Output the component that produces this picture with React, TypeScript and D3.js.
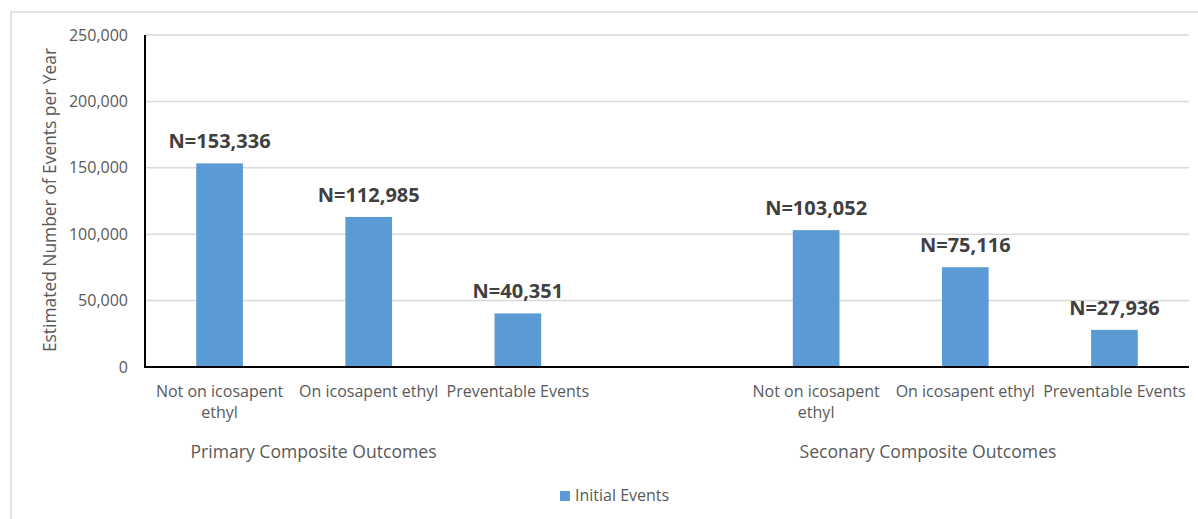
import React from "react";
import * as d3 from "d3";

const groups = ["Primary Composite Outcomes", "Seconary Composite Outcomes"];
const categories = ["Not on icosapent ethyl", "On icosapent ethyl", "Preventable Events"];
const categoryLines = [["Not on icosapent", "ethyl"], ["On icosapent ethyl"], ["Preventable Events"]];
const primaryValues = [153336, 112985, 40351];
const secondaryValues = [103052, 75116, 27936];
const yTicks = [0, 50000, 100000, 150000, 200000, 250000];
const seriesName = "Initial Events";

const W = 1198;
const H = 519;
const M = { left: 145, right: 9, top: 35, bottom: 152 };
const BAR_COLOR = "#5b9bd5";
const TEXT = "#595959";
const FONT = "'Open Sans', sans-serif";

export default function App() {
  const slots = [
    ...categories.map((c) => `${groups[0]}|${c}`),
    "gap",
    ...categories.map((c) => `${groups[1]}|${c}`),
  ];
  const x = d3.scaleBand<string>().domain(slots).range([M.left, W - M.right]).padding(0);
  const y = d3.scaleLinear().domain([0, 250000]).range([H - M.bottom, M.top]);
  const bw = x.bandwidth() * 0.313;
  const fmt = d3.format(",");

  const bars = [
    ...categories.map((c, i) => ({ key: `${groups[0]}|${c}`, cat: i, v: primaryValues[i] })),
    ...categories.map((c, i) => ({ key: `${groups[1]}|${c}`, cat: i, v: secondaryValues[i] })),
  ];
  const groupCenters = [M.left + x.bandwidth() * 1.13, M.left + x.bandwidth() * 5.25];
  const [x0, x1] = x.range();

  return (
    <svg width={W} height={H} style={{ position: "absolute", left: 0, top: 0, background: "#fff" }}>
      <rect x={11} y={12} width={W + 20} height={H + 20} fill="none" stroke="#d9d9d9" strokeWidth={1.5} />
      {yTicks.map((t) => (
        <g key={t}>
          {t > 0 && <line x1={x0} x2={x1} y1={y(t)} y2={y(t)} stroke="#d9d9d9" strokeWidth={1.5} />}
          <text x={x0 - 17} y={y(t)} dy="0.35em" textAnchor="end" fontFamily={FONT} fontSize={16} fill={TEXT}>
            {fmt(t)}
          </text>
        </g>
      ))}
      {bars.map((b) => {
        const cx = (x(b.key) as number) + x.bandwidth() / 2;
        return (
          <g key={b.key}>
            <rect x={cx - bw / 2} y={y(b.v)} width={bw} height={y(0) - y(b.v)} fill={BAR_COLOR} />
            <text x={cx} y={y(b.v) - 15} textAnchor="middle" fontFamily={FONT} fontWeight="bold" fontSize={20} fill="#404040">
              {"N=" + fmt(b.v)}
            </text>
            <text x={cx} y={397} textAnchor="middle" fontFamily={FONT} fontSize={16} fill={TEXT}>
              {categoryLines[b.cat].map((l, j) => (
                <tspan key={j} x={cx} dy={j === 0 ? 0 : 21}>{l}</tspan>
              ))}
            </text>
          </g>
        );
      })}
      <line x1={x0} x2={x0} y1={y(250000)} y2={y(0)} stroke="#000" strokeWidth={2} />
      <line x1={x0 - 1} x2={x1} y1={y(0)} y2={y(0)} stroke="#000" strokeWidth={2} />
      {groups.map((g, i) => (
        <text key={g} x={groupCenters[i]} y={458} textAnchor="middle" fontFamily={FONT} fontSize={17.6} fill={TEXT}>
          {g}
        </text>
      ))}
      <text
        transform={`translate(56, 200) rotate(-90)`}
        textAnchor="middle"
        fontFamily={FONT}
        fontSize={17.4}
        fill={TEXT}
      >
        Estimated Number of Events per Year
      </text>
      <rect x={560} y={491} width={10} height={10} fill={BAR_COLOR} />
      <text x={575} y={501} fontFamily={FONT} fontSize={16} fill={TEXT}>{seriesName}</text>
    </svg>
  );
}
